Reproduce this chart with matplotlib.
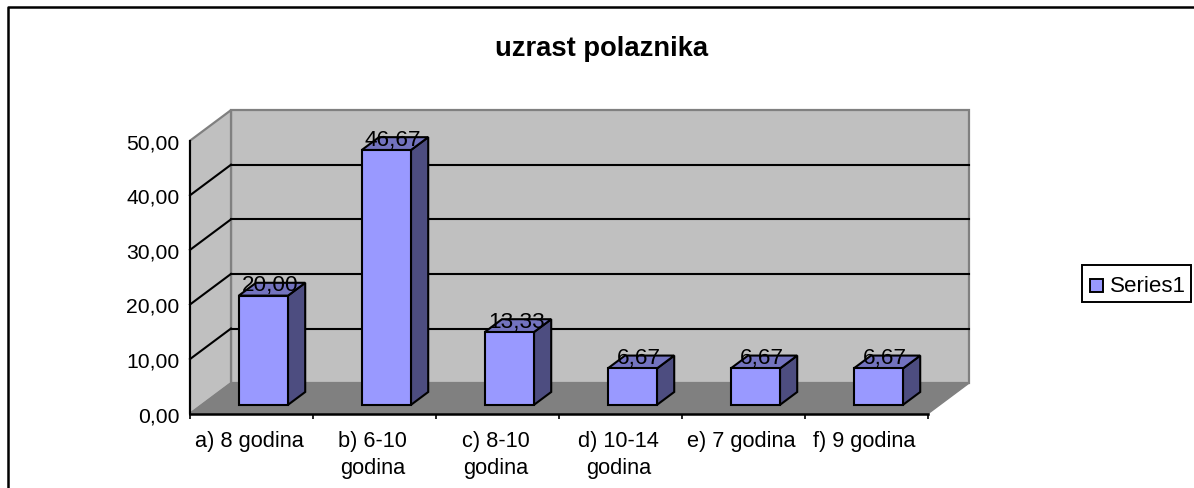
import matplotlib
matplotlib.use('Agg')
import matplotlib.pyplot as plt
from matplotlib.patches import Polygon, Rectangle
from matplotlib.lines import Line2D

plt.rcParams['font.family'] = ['Liberation Sans', 'DejaVu Sans']

categories = ['a) 8 godina', 'b) 6-10\ngodina', 'c) 8-10\ngodina',
              'd) 10-14\ngodina', 'e) 7 godina', 'f) 9 godina']
values = [20.00, 46.67, 13.33, 6.67, 6.67, 6.67]
y_ticks = [0, 10, 20, 30, 40, 50]
title = 'uzrast polaznika'
series_name = 'Series1'

W, H = 1194, 489
# depth of the fake 3d box, in data units
DX = 1 / 3
DY = 5.6
BAR_W = 0.4
FS = 15.7


def oblique(x, y, d):
    return (x + d * DX, y + d * DY)


def face(ax, pts, color, edge='black', lw=1.5, z=2):
    ax.add_patch(Polygon(pts, closed=True, facecolor=color, edgecolor=edge,
                         linewidth=lw, clip_on=False, zorder=z, joinstyle='miter'))


def seg(ax, a, b, color='black', lw=1.5, z=3):
    ax.add_line(Line2D([a[0], b[0]], [a[1], b[1]], color=color, lw=lw,
                       clip_on=False, zorder=z))


fig = plt.figure(figsize=(W / 100, H / 100), dpi=100)

# outer frame, cut off at the right and bottom
fig.add_artist(Line2D([7.5 / W, 7.5 / W, 1], [0, 1 - 8 / H, 1 - 8 / H],
                      color='black', lw=1.8))

ax = fig.add_axes([190 / W, (H - 414.7) / H, 738 / W, 273 / H])
ax.set_xlim(0, len(categories))
ax.set_ylim(0, 50)
ax.patch.set_visible(False)
for s in ax.spines.values():
    s.set_visible(False)

n = len(categories)
ymax = y_ticks[-1]

# walls and floor
face(ax, [oblique(0, 0, 1), oblique(n, 0, 1), oblique(n, ymax, 1), oblique(0, ymax, 1)],
     '#c0c0c0', '#808080', 1.6, 1)
face(ax, [oblique(0, 0, 0), oblique(0, 0, 1), oblique(0, ymax, 1), oblique(0, ymax, 0)],
     '#c0c0c0', '#808080', 1.6, 1)
face(ax, [oblique(0, 0, 0), oblique(n, 0, 0), oblique(n, 0, 1), oblique(0, 0, 1)],
     '#808080', '#808080', 1, 1)

# gridlines run along side wall and back wall
for t in y_ticks[1:-1]:
    seg(ax, oblique(0, t, 0), oblique(0, t, 1), z=1.5)
    seg(ax, oblique(0, t, 1), oblique(n, t, 1), z=1.5)

# axis lines
seg(ax, (0, 0), (n, 0), z=5, lw=1.8)
seg(ax, (0, 0), (0, ymax), z=5)

# bars
for i, v in enumerate(values):
    x0 = i + (1 - BAR_W) / 2
    x1 = x0 + BAR_W
    d0, d1 = 0.29, 0.71
    face(ax, [oblique(x1, 0, d0), oblique(x1, 0, d1), oblique(x1, v, d1), oblique(x1, v, d0)],
         '#4d4d80', z=3)
    face(ax, [oblique(x0, v, d0), oblique(x1, v, d0), oblique(x1, v, d1), oblique(x0, v, d1)],
         '#7373bf', z=3)
    face(ax, [oblique(x0, 0, d0), oblique(x1, 0, d0), oblique(x1, v, d0), oblique(x0, v, d0)],
         '#9999ff', z=4)
    lx, ly = oblique(i + 0.5, v, 0.5)
    ax.text(lx - 0.015, ly + 0.8, f'{v:.2f}'.replace('.', ','), ha='center', va='center',
            fontsize=16.2, color='black', zorder=6)

ax.set_xticks(range(n + 1))
ax.set_xticklabels([])
ax.set_yticks(y_ticks)
ax.set_yticklabels([f'{t:.2f}'.replace('.', ',') for t in y_ticks], fontsize=15.2)
ax.tick_params(axis='x', length=3.5, width=1.2, color='black')
ax.tick_params(axis='y', length=0, pad=7.5)
for i, c in enumerate(categories):
    ax.text(i + 0.484, -2.9, c, ha='center', va='top', fontsize=FS,
            linespacing=1.42, clip_on=False)

fig.text(602 / W, 1 - 48.5 / H, title, ha='center', va='center', fontsize=19.7,
         fontweight='bold')

# legend box
fig.add_artist(Rectangle((1082 / W, 1 - 303 / H), 109 / W, 37 / H, facecolor='white',
                         edgecolor='black', lw=1.4, transform=fig.transFigure))
fig.add_artist(Rectangle((1090 / W, 1 - 293 / H), 13 / W, 13 / H, facecolor='#9999ff',
                         edgecolor='black', lw=1.4, transform=fig.transFigure))
fig.text(1110 / W, 1 - 286 / H, series_name, ha='left', va='center', fontsize=16.1)

fig.savefig('out.png', dpi=100, facecolor='white')
